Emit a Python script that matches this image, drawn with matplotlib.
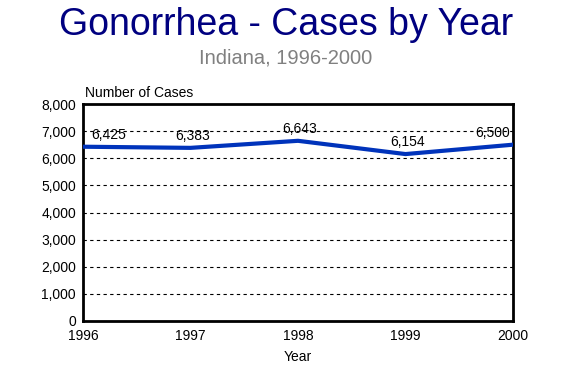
import matplotlib
matplotlib.use("Agg")
import matplotlib.pyplot as plt
from matplotlib.ticker import FuncFormatter

years = [1996, 1997, 1998, 1999, 2000]
cases = [6425, 6383, 6643, 6154, 6500]
labels = ["6,425", "6,383", "6,643", "6,154", "6,500"]
y_ticks = [0, 1000, 2000, 3000, 4000, 5000, 6000, 7000, 8000]

plt.rcParams["font.family"] = ["Liberation Sans", "DejaVu Sans"]

fig = plt.figure(figsize=(5.68, 3.70), dpi=100)
ax = fig.add_axes([83/568, 1 - 321/370, 430/568, 217/370])

ax.plot(years, cases, color="#0033bb", lw=3, zorder=3)

# label placement: keep the end labels inside the frame
aligns = ["left", "center", "center", "center", "right"]
shifts = [8, 2, 2, 2, -3]
for x, y, s, ha, dx in zip(years, cases, labels, aligns, shifts):
    ax.annotate(s, (x, y), xytext=(dx, 8), textcoords="offset pixels",
                ha=ha, va="baseline", fontsize=10, color="black", zorder=4)

ax.set_xlim(1996, 2000)
ax.set_ylim(0, 8000)
ax.set_xticks(years)
ax.set_yticks(y_ticks)
ax.yaxis.set_major_formatter(FuncFormatter(lambda v, p: f"{int(v):,}"))
ax.tick_params(length=0, labelsize=10)
ax.tick_params(axis="x", pad=6)
ax.tick_params(axis="y", pad=5)
ax.grid(axis="y", color="black", ls=(0, (3, 3)), lw=0.8)
for sp in ax.spines.values():
    sp.set_linewidth(2)

ax.set_xlabel("Year", fontsize=10, labelpad=5)
ax.annotate("Number of Cases", (0, 1), xycoords="axes fraction",
            xytext=(2, 7), textcoords="offset pixels", fontsize=10,
            ha="left", va="baseline")

fig.text(0.503, 1 - 35/370, "Gonorrhea - Cases by Year", fontsize=27,
         color="#000080", ha="center", va="baseline")
fig.text(0.503, 1 - 64/370, "Indiana, 1996-2000", fontsize=14.5,
         color="#808080", ha="center", va="baseline")

fig.savefig("out.png", dpi=100)
